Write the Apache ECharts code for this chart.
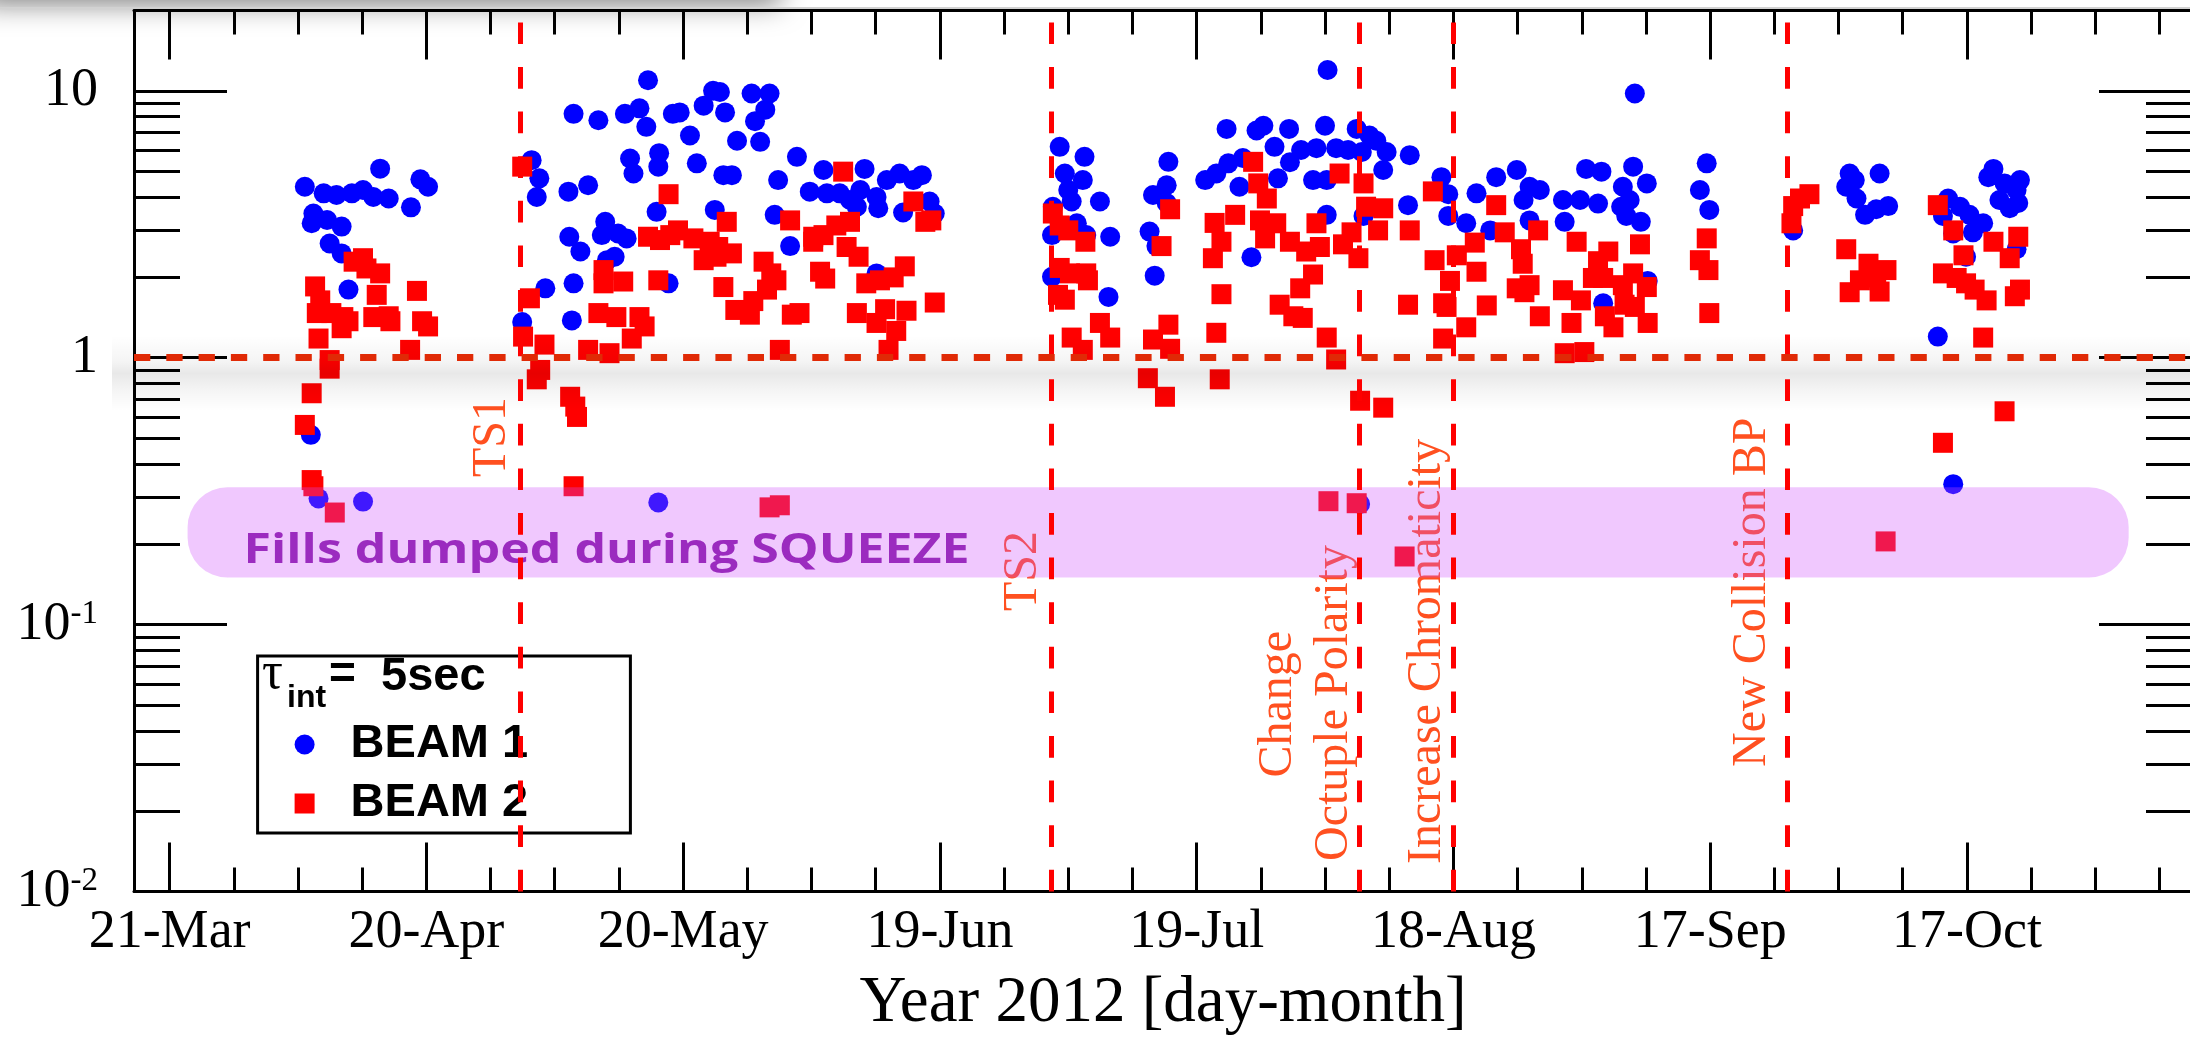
<!DOCTYPE html>
<html><head><meta charset="utf-8">
<script src="https://cdn.jsdelivr.net/npm/echarts@6/dist/echarts.min.js"></script>
<style>html,body{margin:0;padding:0;background:#fff;overflow:hidden}#c{width:2190px;height:1044px}</style>
</head><body><div id="c"></div>
<script>
// x values are days counted from 21-Mar-2012
const xTickDays = [0, 30, 60, 90, 120, 150, 180, 210];
const xTickLabels = ['21-Mar', '20-Apr', '20-May', '19-Jun', '19-Jul', '18-Aug', '17-Sep', '17-Oct'];
const xMinorDays = [7.5, 15, 22.5, 37.5, 45, 52.5, 67.5, 75, 82.5, 97.5, 105, 112.5, 127.5, 135, 142.5, 157.5, 165, 172.5, 187.5, 195, 202.5, 217.5, 225, 232.5];
const xRange = [-4.16, 236.3];
const yTickVals = [0.01, 0.1, 1, 10];
const yTickLabels = ['{b|10}{s|-2}', '{b|10}{s|-1}', '{b|1}', '{b|10}'];
const yMinorVals = [0.02, 0.03, 0.04, 0.05, 0.06, 0.07, 0.08, 0.09, 0.2, 0.3, 0.4, 0.5, 0.6, 0.7, 0.8, 0.9, 2, 3, 4, 5, 6, 7, 8, 9];
const yRange = [0.01, 20];
const seriesNames = ['BEAM 1', 'BEAM 2'];
const beam1 = [
[15.8,4.37],[18.0,4.13],[19.5,4.07],[21.3,4.13],[22.6,4.25],[23.8,4.0],[24.6,5.11],[25.6,3.95],[16.8,3.47],[16.6,3.19],[18.4,3.28],[20.1,3.1],[18.7,2.68],[20.1,2.46],[20.9,1.8],[28.2,3.66],[29.3,4.66],[30.2,4.37],[16.5,0.514],[17.4,0.297],[22.6,0.289],[57.1,0.287],
[42.3,5.5],[43.2,4.7],[42.9,4.0],[47.2,8.2],[50.1,7.76],[53.2,8.2],[54.9,8.6],[55.7,7.33],[55.9,10.96],[58.8,8.2],[59.6,8.3],[60.8,6.8],[62.4,8.8],[63.5,10.0],[64.3,9.9],[64.9,8.3],[66.3,6.5],[53.8,5.58],[54.2,4.9],[57.2,5.84],[57.1,5.2],[61.6,5.35],[64.7,4.83],[65.7,4.83],[48.9,4.43],[46.6,4.19],[56.9,3.52],[63.7,3.58],[46.7,2.84],[48.0,2.5],[50.9,3.23],[50.5,2.88],[52.4,2.92],[53.4,2.8],[52.0,2.39],[51.1,2.32],[43.9,1.82],[47.2,1.9],[58.3,1.9],[41.2,1.36],[47.0,1.38],
[68.0,9.77],[70.1,9.77],[69.6,8.5],[68.4,7.7],[69.0,6.44],[73.3,5.66],[71.1,4.63],[76.4,5.05],[74.8,4.19],[76.8,4.13],[78.3,4.13],[79.5,3.9],[81.2,5.1],[80.7,4.25],[82.6,4.0],[82.8,3.63],[83.8,4.63],[85.3,4.9],[86.9,4.63],[87.9,4.83],[88.8,3.85],[89.4,3.47],[85.7,3.5],[80.3,3.68],[70.7,3.43],[72.5,2.62],[82.6,2.07],
[104.0,6.17],[106.9,5.66],[104.6,4.9],[106.7,4.63],[105.0,4.25],[105.4,3.85],[108.7,3.85],[103.2,3.68],[106.0,3.19],[107.1,2.88],[103.1,2.88],[109.9,2.84],[103.1,2.01],[109.7,1.69],[116.7,5.42],[116.5,4.43],[114.9,4.07],[116.5,3.8],[114.5,2.97],[115.3,2.62],[115.1,2.03],[121.0,4.63],
[135.3,11.97],[171.2,9.77],[123.5,7.2],[127.8,7.4],[127.0,7.1],[129.1,6.17],[130.8,7.2],[135.0,7.4],[138.7,7.2],[140.2,6.8],[141.0,6.5],[142.2,5.9],[132.2,6.0],[134.0,6.1],[136.3,6.1],[137.7,6.0],[144.9,5.74],[130.9,5.4],[123.7,5.35],[125.4,5.6],[122.3,4.9],[125.0,4.37],[129.5,4.7],[133.6,4.63],[135.2,4.63],[139.3,5.9],[141.8,5.05],[148.6,4.75],[149.4,4.1],[152.7,4.13],[155.0,4.75],[157.4,5.05],[158.9,4.37],[160.1,4.25],[158.2,3.9],[144.7,3.73],[149.4,3.4],[151.5,3.19],[154.3,3.0],[158.9,3.27],[162.8,3.9],[164.8,3.9],[165.5,5.1],[167.3,4.98],[171.0,5.2],[169.8,4.37],[172.6,4.5],[166.9,3.78],[169.6,3.68],[170.6,3.9],[170.2,3.4],[171.9,3.23],[163.0,3.23],[135.2,3.43],[139.5,3.4],[126.4,2.38],[172.7,1.94],[167.5,1.6],[139.1,0.283],
[179.6,5.35],[178.8,4.25],[179.9,3.58],[189.7,3.0],[196.3,4.9],[196.9,4.63],[195.9,4.37],[197.1,3.95],[198.1,3.43],[199.8,4.9],[199.4,3.6],[200.8,3.7],[206.6,1.2],[213.1,5.1],[212.5,4.75],[216.2,4.63],[214.4,4.5],[215.8,4.25],[213.8,3.9],[216.0,3.8],[215.0,3.63],[207.8,3.95],[209.2,3.68],[210.3,3.43],[211.9,3.19],[210.7,2.95],[208.4,2.92],[209.9,2.39],[207.2,3.4],[215.8,2.55],[208.4,0.336]
];
const beam2 = [
[17.0,1.85],[17.6,1.64],[17.2,1.47],[18.9,1.47],[20.3,1.42],[20.9,1.37],[17.4,1.18],[20.1,1.29],[21.5,2.29],[22.6,2.36],[23.0,2.16],[24.6,2.07],[24.2,1.72],[23.8,1.42],[25.6,1.43],[25.8,1.37],[28.9,1.78],[29.5,1.37],[30.2,1.31],[28.1,1.07],[18.7,0.98],[18.7,0.91],[16.6,0.736],[15.8,0.56],[16.6,0.348],[16.8,0.33],[19.3,0.263],
[41.2,5.2],[42.1,1.67],[41.3,1.2],[43.8,1.12],[43.3,0.9],[42.9,0.83],[46.8,0.714],[47.4,0.656],[47.6,0.6],[47.2,0.33],[48.9,1.07],[50.7,2.13],[50.7,1.9],[53.0,1.93],[50.1,1.47],[52.2,1.42],[54.9,1.42],[55.5,1.31],[54.0,1.18],[51.4,1.04],[58.3,4.1],[57.1,1.95],[55.9,2.84],[57.3,2.76],[58.5,2.88],[59.4,3.0],[61.2,2.8],[62.4,2.32],[63.1,2.72],[64.1,2.6],[63.9,2.39],[65.1,3.23],[65.7,2.46],[64.7,1.84],[66.1,1.51],
[78.7,4.98],[72.5,3.27],[86.9,3.85],[88.3,3.23],[89.0,3.27],[69.4,2.29],[70.3,2.07],[70.9,1.95],[69.8,1.8],[68.2,1.63],[67.8,1.45],[72.7,1.45],[73.6,1.47],[75.2,2.84],[76.4,2.88],[77.9,3.13],[79.5,3.23],[75.2,2.72],[76.0,2.1],[76.6,1.98],[79.1,2.6],[80.5,2.39],[81.4,1.9],[83.0,1.95],[84.6,2.0],[85.9,2.2],[80.3,1.47],[82.6,1.35],[83.6,1.52],[86.1,1.5],[84.9,1.26],[84.0,1.07],[71.3,1.07],[89.4,1.61],[70.1,0.275],[71.3,0.28],
[103.2,3.47],[104.0,3.13],[105.0,3.0],[107.0,2.72],[104.0,2.17],[105.2,2.07],[107.1,2.07],[107.3,1.95],[103.8,1.72],[104.6,1.65],[108.7,1.35],[109.9,1.19],[105.4,1.19],[106.7,1.07],[116.9,3.6],[115.9,2.62],[116.7,1.33],[114.9,1.17],[116.9,1.08],[114.3,0.838],[116.3,0.714],
[126.6,5.42],[127.2,4.5],[128.2,3.95],[136.7,4.9],[139.5,4.5],[147.6,4.2],[155.0,3.73],[122.1,3.2],[124.5,3.43],[127.4,3.27],[129.3,3.19],[128.0,2.8],[130.9,2.72],[122.9,2.72],[132.8,2.5],[134.4,2.6],[137.1,2.66],[138.1,2.95],[134.0,3.19],[138.9,2.36],[139.8,3.68],[141.8,3.63],[141.2,3.0],[144.9,3.0],[121.9,2.36],[133.6,2.05],[132.1,1.82],[129.7,1.58],[131.3,1.43],[132.4,1.41],[122.9,1.73],[122.3,1.24],[135.2,1.19],[136.3,0.985],[122.7,0.83],[139.1,0.69],[141.8,0.65],[135.4,0.29],[138.7,0.285],[144.3,0.18],
[147.8,2.32],[150.4,2.42],[152.5,2.7],[152.7,2.1],[149.6,1.94],[148.8,1.6],[149.2,1.55],[144.7,1.58],[151.5,1.3],[148.8,1.18],[153.9,1.57],[156.0,2.95],[159.9,3.0],[157.9,2.55],[158.1,2.25],[157.4,1.82],[158.9,1.87],[158.3,1.76],[160.1,1.43],[164.4,2.72],[168.1,2.5],[166.9,2.3],[166.3,1.99],[167.5,1.99],[162.8,1.79],[164.9,1.64],[163.8,1.35],[167.7,1.43],[168.7,1.3],[169.8,1.87],[171.0,2.07],[171.8,2.66],[172.6,1.84],[170.0,1.58],[171.2,1.55],[172.7,1.35],[163.0,1.04],[165.3,1.05],
[179.6,2.8],[178.8,2.32],[179.8,2.13],[179.9,1.47],[191.6,4.1],[190.5,3.95],[189.7,3.7],[189.5,3.19],[195.9,2.55],[198.5,2.25],[200.6,2.13],[197.5,1.95],[196.3,1.76],[199.8,1.77],[199.4,2.0],[206.6,3.73],[208.4,3.0],[209.6,2.42],[207.2,2.07],[208.8,1.99],[209.9,1.9],[210.9,1.8],[212.3,1.64],[213.1,2.72],[216.0,2.84],[215.0,2.36],[216.2,1.8],[215.6,1.7],[211.9,1.19],[207.2,0.48],[214.4,0.63],[200.5,0.205]
];
const eventDays = [41, 103, 139, 150, 189];
const refLevel = 1;
const bandDays = [2.1, 228.9];
const bandVals = [0.15, 0.327];
const bandText = 'Fills dumped during SQUEEZE';
const axisTitle = 'Year 2012 [day-month]';

const SERIF = '"Liberation Serif", "Times New Roman", serif';
const SANS = '"Liberation Sans", Arial, sans-serif';
const chart = echarts.init(document.getElementById('c'), null, {renderer: 'canvas'});

function xAxisDef(pos, ticks, len, showLine, showLabel) {
  return {
    type: 'value', position: pos, min: xRange[0], max: xRange[1],
    axisLine: {show: showLine, onZero: false, lineStyle: {color: '#000', width: 3}},
    axisTick: {show: true, inside: true, length: len, customValues: ticks, lineStyle: {color: '#000', width: 3}},
    axisLabel: showLabel ? {
      show: true, customValues: xTickDays, margin: 14, color: '#000',
      fontFamily: SERIF, fontSize: 54,
      formatter: function (v) { const i = xTickDays.indexOf(Math.round(v)); return i >= 0 ? xTickLabels[i] : ''; }
    } : {show: false},
    splitLine: {show: false},
    name: showLabel ? axisTitle : '', nameLocation: 'middle', nameGap: 80,
    nameTextStyle: {fontFamily: SERIF, fontSize: 65, color: '#000'}
  };
}
function yAxisDef(pos, ticks, len, showLine, showLabel) {
  return {
    type: 'log', logBase: 10, position: pos, min: yRange[0], max: yRange[1],
    axisLine: {show: showLine, onZero: false, lineStyle: {color: '#000', width: 3}},
    axisTick: {show: true, inside: true, length: len, customValues: ticks, lineStyle: {color: '#000', width: 3}},
    axisLabel: showLabel ? {
      show: true, customValues: yTickVals, margin: 36, color: '#000',
      formatter: function (v) { const k = Math.round(Math.log10(v)) + 2; return yTickLabels[k] || ''; },
      rich: {
        b: {fontFamily: SERIF, fontSize: 54, color: '#000', verticalAlign: 'bottom', lineHeight: 54},
        s: {fontFamily: SERIF, fontSize: 33, color: '#000', verticalAlign: 'top', lineHeight: 33}
      }
    } : {show: false},
    splitLine: {show: false}
  };
}

const option = {
  animation: false,
  backgroundColor: '#fff',
  grid: {left: 134, top: 10.5, width: 2058, height: 881, outerBoundsMode: 'none', containLabel: false},
  xAxis: [
    xAxisDef('bottom', xTickDays, 49, true, true),
    xAxisDef('bottom', xMinorDays, 24, false, false),
    xAxisDef('top', xTickDays, 49, true, false),
    xAxisDef('top', xMinorDays, 24, false, false)
  ],
  yAxis: [
    yAxisDef('left', yTickVals, 93, true, true),
    yAxisDef('left', yMinorVals, 46, false, false),
    yAxisDef('right', yTickVals, 93, true, false),
    yAxisDef('right', yMinorVals, 46, false, false)
  ],
  legend: {
    data: [{name: seriesNames[0], icon: 'circle'}, {name: seriesNames[1], icon: 'rect'}],
    orient: 'vertical', left: 294.6, top: 721, padding: 0, itemWidth: 20, itemHeight: 20, itemGap: 12,
    selectedMode: false,
    textStyle: {fontFamily: SANS, fontWeight: 'bold', fontSize: 47, lineHeight: 47, color: '#000', padding: [0, 0, 0, 31]}
  },
  series: [
    {name: seriesNames[0], type: 'scatter', symbol: 'circle', symbolSize: 20, data: beam1,
     itemStyle: {color: '#0000ff', opacity: 1}, z: 2},
    {name: seriesNames[1], type: 'scatter', symbol: 'rect', symbolSize: 20, data: beam2,
     itemStyle: {color: '#ff0000', opacity: 1}, z: 2},
    {name: 'lines', type: 'scatter', data: [], z: 2, silent: true,
     markLine: {
       silent: true, symbol: ['none', 'none'], label: {show: false}, animation: false,
       data: eventDays.map(function (d) {
         return [{coord: [d, yRange[0]], lineStyle: {color: '#ff0000', width: 5, type: [21.7, 22.9]}}, {coord: [d, yRange[1]]}];
       }).concat([[{coord: [xRange[0], refLevel], lineStyle: {color: '#e02a06', width: 7, type: [16.3, 16]}}, {coord: [xRange[1], refLevel]}]])
     }}
  ]
};
chart.setOption(option);

const P = function (d, v) { return chart.convertToPixel({xAxisIndex: 0, yAxisIndex: 0}, [d, v]); };
const g = [];
// top screenshot shadow and gray rule
g.push({type: 'rect', z: 1, shape: {x: -20, y: -40, width: 800, height: 40}, style: {fill: '#fff', shadowBlur: 28, shadowColor: 'rgba(0,0,0,0.5)', shadowOffsetY: 4}});
g.push({type: 'rect', z: 1, shape: {x: 0, y: 7, width: 2190, height: 2}, style: {fill: '#d2d2d2'}});
// glow under the reference level
const ry = P(0, refLevel)[1];
g.push({type: 'rect', z: 3, silent: true, shape: {x: 112, y: ry - 22, width: 2100, height: 75},
  style: {fill: {type: 'linear', x: 0, y: 0, x2: 0, y2: 1, colorStops: [
    {offset: 0, color: 'rgba(0,0,0,0)'}, {offset: 0.35, color: 'rgba(0,0,0,0.045)'},
    {offset: 0.5, color: 'rgba(0,0,0,0.09)'}, {offset: 0.72, color: 'rgba(0,0,0,0.045)'}, {offset: 1, color: 'rgba(0,0,0,0)'}]}}});
// squeeze band
const b0 = P(bandDays[0], bandVals[1]), b1 = P(bandDays[1], bandVals[0]);
g.push({type: 'rect', z: 3, silent: true, shape: {x: b0[0], y: b0[1], width: b1[0] - b0[0], height: b1[1] - b0[1], r: 40},
  style: {fill: 'rgba(206,77,252,0.31)'}});
const bandFont = 'bold 42px "Open Sans", sans-serif';
const mctx = document.createElement('canvas').getContext('2d');
mctx.font = bandFont;
const bandScale = 726 / mctx.measureText(bandText).width;
g.push({type: 'text', z: 4, x: b0[0] + 56, y: 572, scaleX: bandScale, style: {text: bandText, font: bandFont, fill: '#9b2bbf', align: 'left', verticalAlign: 'bottom'}});
// event annotations (rotated)
const ann = [
  {t: 'TS1', d: eventDays[0], dx: -11.5, y: 477},
  {t: 'TS2', d: eventDays[1], dx: -10.3, y: 611},
  {t: 'Change', d: eventDays[2], dx: -64, y: 777.6},
  {t: 'Octuple Polarity', d: eventDays[2], dx: -8.2, y: 861},
  {t: 'Increase Chromaticity', d: eventDays[3], dx: -8.8, y: 864},
  {t: 'New Collision BP', d: eventDays[4], dx: -17.7, y: 767}
];
ann.forEach(function (a) {
  const lx = P(a.d, 1)[0];
  g.push({type: 'text', z: 2, x: lx + a.dx + 7, y: a.y, rotation: Math.PI / 2,
    style: {text: a.t, font: '48px ' + SERIF, fill: '#ff5020', align: 'left', verticalAlign: 'bottom'}});
});
// legend frame and title
g.push({type: 'rect', z: 3, shape: {x: 257.6, y: 656, width: 372.8, height: 177}, style: {fill: '#fff', stroke: '#000', lineWidth: 3}});
g.push({type: 'text', z: 5, x: 262, y: 700, style: {text: 'τ', font: '52px ' + SERIF, fill: '#000', align: 'left', verticalAlign: 'bottom'}});
g.push({type: 'text', z: 5, x: 287, y: 714, style: {text: 'int', font: 'bold 32px ' + SANS, fill: '#000', align: 'left', verticalAlign: 'bottom'}});
g.push({type: 'text', z: 5, x: 329, y: 698, style: {text: '=', font: 'bold 46px ' + SANS, fill: '#000', align: 'left', verticalAlign: 'bottom'}});
g.push({type: 'text', z: 5, x: 381, y: 701, style: {text: '5sec', font: 'bold 47px ' + SANS, fill: '#000', align: 'left', verticalAlign: 'bottom'}});
chart.setOption({graphic: g});
</script>
</body></html>
